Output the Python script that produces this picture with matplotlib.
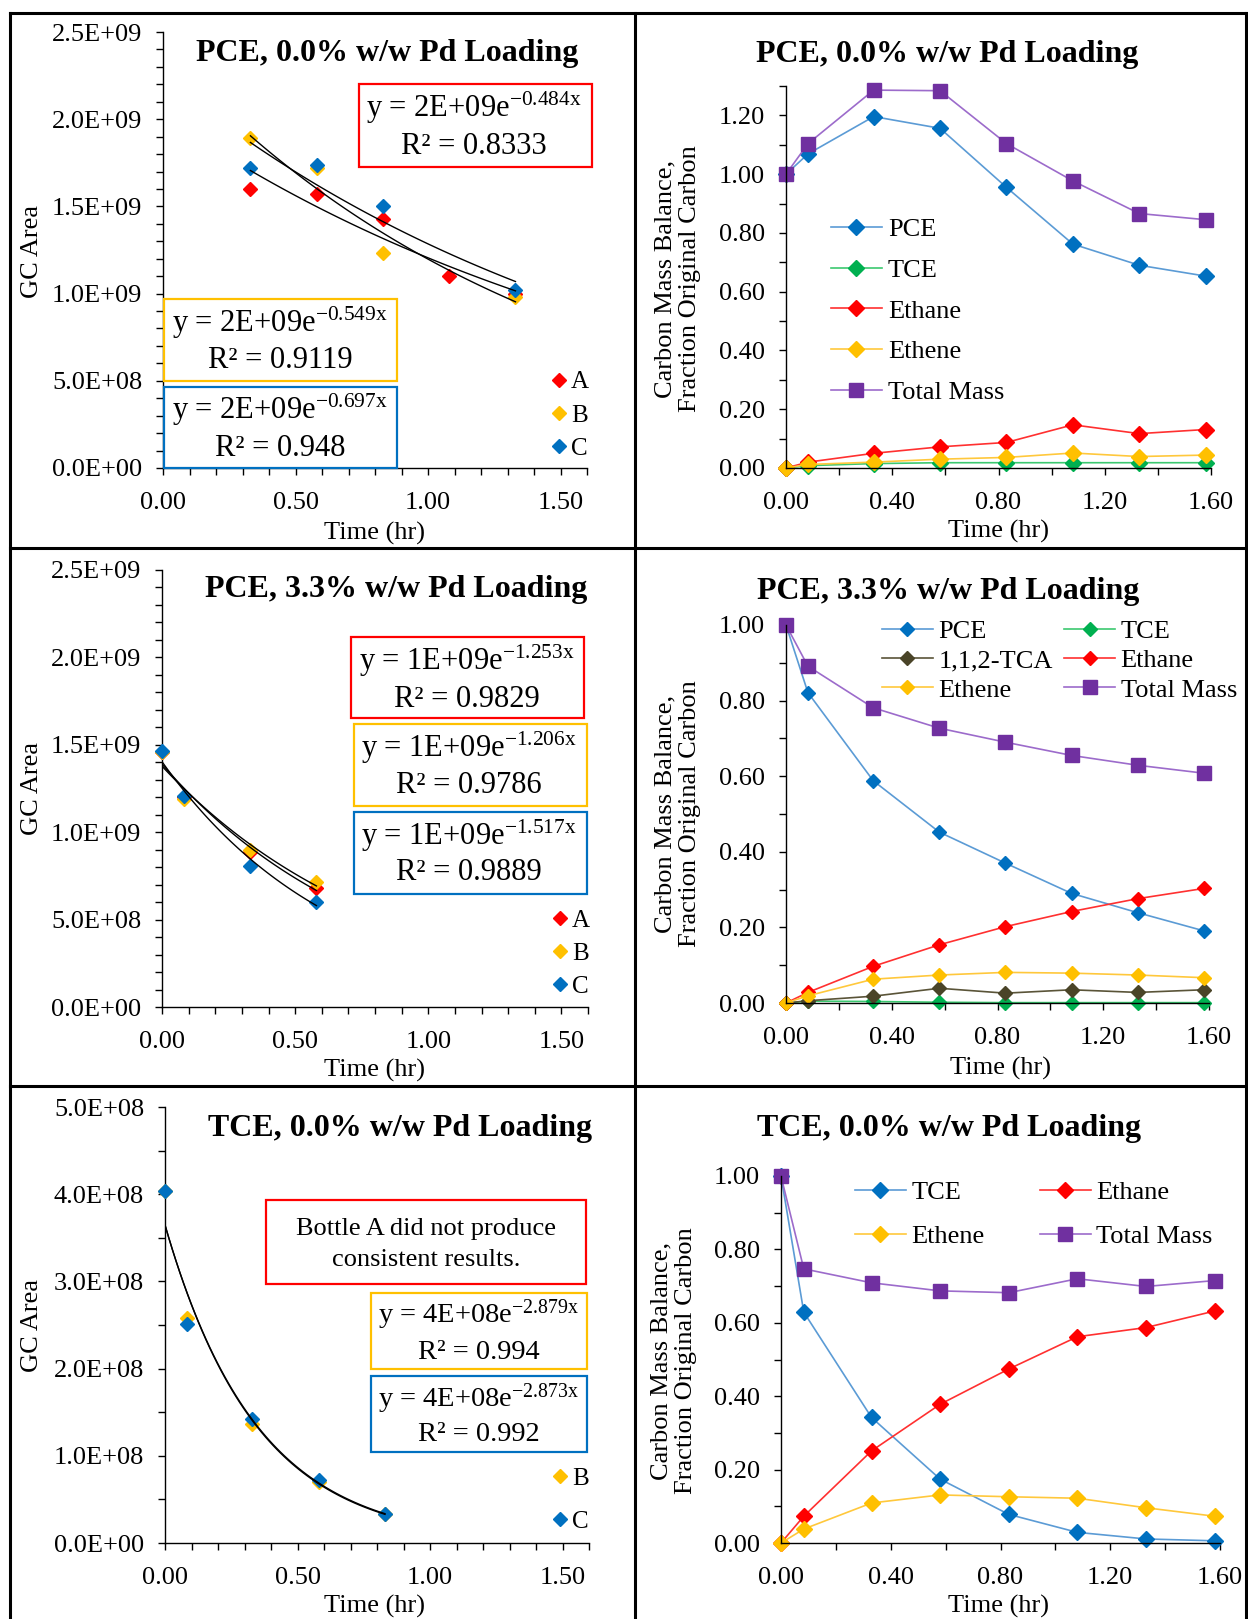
import numpy as np
import matplotlib
matplotlib.use("Agg")
import matplotlib.pyplot as plt
from matplotlib.patches import Rectangle
from matplotlib.lines import Line2D
from matplotlib.ticker import MultipleLocator, FuncFormatter

plt.rcParams['font.family'] = ['Liberation Serif', 'DejaVu Serif']
plt.rcParams['mathtext.fontset'] = 'custom'
plt.rcParams['mathtext.rm'] = 'Liberation Serif'
plt.rcParams['mathtext.default'] = 'regular'

# ---- GC area data (hr, area) ----
t_pce0 = [0.33, 0.58, 0.83, 1.08, 1.33]
pce0_A = [1.60e9, 1.57e9, 1.43e9, 1.10e9, 1.00e9]
t_pce0_bc = [0.33, 0.58, 0.83, 1.33]
pce0_B = [1.89e9, 1.72e9, 1.23e9, 0.98e9]
pce0_C = [1.72e9, 1.74e9, 1.50e9, 1.02e9]

t_pce33 = [0.0, 0.083, 0.33, 0.58]
pce33_A = [1.46e9, 1.20e9, 0.886e9, 0.683e9]
pce33_B = [1.46e9, 1.19e9, 0.896e9, 0.713e9]
pce33_C = [1.465e9, 1.206e9, 0.808e9, 0.599e9]

t_tce0 = [0.0, 0.083, 0.33, 0.58, 0.83]
tce0_B = [4.04e8, 2.58e8, 1.37e8, 0.695e8, 0.33e8]
tce0_C = [4.04e8, 2.51e8, 1.42e8, 0.726e8, 0.328e8]

# ---- carbon mass balance data ----
t_mb = [0.0, 0.083, 0.33, 0.58, 0.83, 1.08, 1.33, 1.58]

mb1_pce = [1.0, 1.069, 1.196, 1.156, 0.955, 0.762, 0.690, 0.653]
mb1_tce = [0.0, 0.008, 0.015, 0.018, 0.018, 0.018, 0.018, 0.018]
mb1_ethane = [0.0, 0.020, 0.050, 0.072, 0.087, 0.147, 0.117, 0.131]
mb1_ethene = [0.0, 0.012, 0.020, 0.030, 0.036, 0.051, 0.039, 0.044]
mb1_total = [1.0, 1.104, 1.286, 1.284, 1.104, 0.977, 0.866, 0.845]

mb2_pce = [1.0, 0.821, 0.588, 0.452, 0.370, 0.290, 0.239, 0.191]
mb2_tce = [0.0, 0.005, 0.004, 0.002, 0.001, 0.001, 0.001, 0.001]
mb2_tca = [0.0, 0.006, 0.018, 0.039, 0.026, 0.035, 0.028, 0.035]
mb2_ethane = [0.0, 0.028, 0.097, 0.154, 0.202, 0.242, 0.276, 0.303]
mb2_ethene = [0.0, 0.019, 0.063, 0.074, 0.081, 0.079, 0.074, 0.067]
mb2_total = [1.0, 0.891, 0.781, 0.727, 0.690, 0.655, 0.629, 0.608]

mb3_tce = [1.0, 0.629, 0.342, 0.174, 0.078, 0.029, 0.011, 0.006]
mb3_ethane = [0.0, 0.073, 0.251, 0.378, 0.474, 0.562, 0.587, 0.632]
mb3_ethene = [0.0, 0.038, 0.109, 0.131, 0.126, 0.122, 0.096, 0.073]
mb3_total = [1.0, 0.747, 0.709, 0.687, 0.682, 0.720, 0.699, 0.715]

RED, YEL, BLU = '#FF0000', '#FFC000', '#0070C0'
GRN, PUR, TCA = '#00B050', '#7030A0', '#4A4428'
LINE = {BLU: '#5B9BD5', GRN: '#3CC870', RED: '#FF3030', YEL: '#FFC83C',
        PUR: '#9C6BCB', TCA: '#5A5438'}

W, H = 1248, 1619
fig = plt.figure(figsize=(W / 100, H / 100), dpi=100)
FS = 19


def fx(x):
    return x / W


def fy(y):
    return 1 - y / H


def add_ax(x0, y0, x1, y1):
    ax = fig.add_axes([fx(x0), fy(y1), (x1 - x0) / W, (y1 - y0) / H])
    for s in ['top', 'right']:
        ax.spines[s].set_visible(False)
    for s in ['left', 'bottom']:
        ax.spines[s].set_linewidth(1.0)
    ax.tick_params(which='both', direction='out', length=5, width=1.0,
                   labelsize=FS)
    ax.tick_params(axis='y', pad=10)
    ax.tick_params(axis='x', pad=12)
    return ax


def gc_axes(ax, ymax, ymin_step):
    ax.set_xlim(0, 1.6)
    ax.set_ylim(0, ymax)
    ax.xaxis.set_major_locator(MultipleLocator(0.5))
    ax.xaxis.set_minor_locator(MultipleLocator(0.1))
    ax.xaxis.set_major_formatter(FuncFormatter(lambda v, p: f"{v:.2f}"))
    ax.yaxis.set_major_locator(MultipleLocator(ymax / 5))
    ax.yaxis.set_minor_locator(MultipleLocator(ymin_step))
    ax.yaxis.set_major_formatter(FuncFormatter(lambda v, p: f"{v:.1E}"))


def mb_axes(ax, ymax):
    ax.set_xlim(0, 1.6)
    ax.set_ylim(0, ymax)
    ax.xaxis.set_major_locator(MultipleLocator(0.4))
    ax.xaxis.set_minor_locator(MultipleLocator(0.2))
    ax.xaxis.set_major_formatter(FuncFormatter(lambda v, p: f"{v:.2f}"))
    ax.yaxis.set_major_locator(MultipleLocator(0.2))
    ax.yaxis.set_minor_locator(MultipleLocator(0.1))
    ax.yaxis.set_major_formatter(FuncFormatter(lambda v, p: f"{v:.2f}"))


def exp_fit(ax, t, y):
    # excel style exponential trendline
    k, b = np.polyfit(t, np.log(y), 1)
    xx = np.linspace(min(t), max(t), 60)
    ax.plot(xx, np.exp(b + k * xx), color='black', lw=1.0, zorder=4)


def scatter(ax, t, y, c, label):
    return ax.plot(t, y, 'D', ms=7.3, color=c, mec=c, label=label,
                   clip_on=False, zorder=3)[0]


def series(ax, t, y, c, label, marker='D', ms=8):
    return ax.plot(t, y, '-', color=LINE[c], lw=1.2, marker=marker, ms=ms,
                   mfc=c, mec=c, label=label, clip_on=False)[0]


def box(x0, y0, x1, y1, c):
    fig.add_artist(Rectangle((fx(x0), fy(y1)), (x1 - x0) / W, (y1 - y0) / H,
                             transform=fig.transFigure, fc='white', ec=c,
                             lw=1.6, zorder=5))


def eq(x, y1, y2, a, k, r2, fs=22):
    fig.text(fx(x), fy(y1), f"y = {a}e$^{{{k}x}}$", ha='center',
             va='baseline', fontsize=fs, zorder=6)
    fig.text(fx(x), fy(y2), f"R\u00b2 = {r2}", ha='center', va='baseline',
             fontsize=fs, zorder=6)


def abc_legend(ax, handles, x, y, spacing):
    ax.legend(handles=handles, loc='upper left',
              bbox_to_anchor=(fx(x), fy(y)), bbox_transform=fig.transFigure,
              frameon=False, fontsize=18, handlelength=0.6,
              handletextpad=0.2, labelspacing=spacing, borderpad=0,
              borderaxespad=0)


def title(x, y, s):
    fig.text(fx(x), fy(y), s, ha='center', va='baseline', fontsize=23,
             fontweight='bold')


def labels(xc, yc, xl, yl, ylab):
    fig.text(fx(xc), fy(yc), 'Time (hr)', ha='center', va='center',
             fontsize=FS)
    fig.text(fx(xl), fy(yl), ylab, ha='center', va='center', rotation=90,
             fontsize=FS, linespacing=1.15)


MB_LAB = 'Carbon Mass Balance,\nFraction Original Carbon'

# ---------------- panel 1 ----------------
ax = add_ax(163, 32, 587, 468)
gc_axes(ax, 2.5e9, 1e8)
hA = scatter(ax, t_pce0, pce0_A, RED, 'A')
hB = scatter(ax, t_pce0_bc, pce0_B, YEL, 'B')
hC = scatter(ax, t_pce0_bc, pce0_C, BLU, 'C')
exp_fit(ax, t_pce0, pce0_A)
exp_fit(ax, t_pce0_bc, pce0_B)
exp_fit(ax, t_pce0_bc, pce0_C)
abc_legend(ax, [hA, hB, hC], 551, 371, 0.43)
title(387, 61, 'PCE, 0.0% w/w Pd Loading')
labels(375, 533, 32, 251, 'GC Area')
box(359, 84, 592, 167, RED)
eq(474, 117, 154, '2E+09', '-0.484', '0.8333')
box(164, 299, 397, 381, YEL)
eq(280, 332, 368, '2E+09', '-0.549', '0.9119')
box(164, 387, 397, 468, BLU)
eq(280, 419, 456, '2E+09', '-0.697', '0.948')

# ---------------- panel 2 ----------------
ax = add_ax(786, 86, 1211, 468)
mb_axes(ax, 1.3)
series(ax, t_mb, mb1_pce, BLU, 'PCE')
series(ax, t_mb, mb1_tce, GRN, 'TCE')
series(ax, t_mb, mb1_ethane, RED, 'Ethane')
series(ax, t_mb, mb1_ethene, YEL, 'Ethene')
series(ax, t_mb, mb1_total, PUR, 'Total Mass', marker='s', ms=10.5)
ax.legend(loc='upper left', bbox_to_anchor=(fx(831), fy(218)),
          bbox_transform=fig.transFigure, frameon=False, fontsize=FS,
          handlelength=1.93, handletextpad=0.23, labelspacing=0.65,
          borderpad=0, borderaxespad=0)
title(947, 62, 'PCE, 0.0% w/w Pd Loading')
labels(998, 531, 678, 279, MB_LAB)

# ---------------- panel 3 ----------------
ax = add_ax(162, 570, 588, 1007)
gc_axes(ax, 2.5e9, 1e8)
hA = scatter(ax, t_pce33, pce33_A, RED, 'A')
hB = scatter(ax, t_pce33, pce33_B, YEL, 'B')
hC = scatter(ax, t_pce33, pce33_C, BLU, 'C')
exp_fit(ax, t_pce33, pce33_A)
exp_fit(ax, t_pce33, pce33_B)
exp_fit(ax, t_pce33, pce33_C)
abc_legend(ax, [hA, hB, hC], 552, 909, 0.43)
title(396, 597, 'PCE, 3.3% w/w Pd Loading')
labels(375, 1070, 32, 788, 'GC Area')
box(351, 637, 584, 718, RED)
eq(467, 670, 707, '1E+09', '-1.253', '0.9829')
box(354, 724, 587, 806, YEL)
eq(469, 757, 793, '1E+09', '-1.206', '0.9786')
box(354, 812, 587, 894, BLU)
eq(469, 845, 880, '1E+09', '-1.517', '0.9889')

# ---------------- panel 4 ----------------
ax = add_ax(786, 625, 1209, 1003)
mb_axes(ax, 1.0)
h_pce = series(ax, t_mb, mb2_pce, BLU, 'PCE', ms=7.5)
h_tce = series(ax, t_mb, mb2_tce, GRN, 'TCE', ms=7.5)
h_tca = series(ax, t_mb, mb2_tca, TCA, '1,1,2-TCA', ms=7.5)
h_eta = series(ax, t_mb, mb2_ethane, RED, 'Ethane', ms=7.5)
h_ete = series(ax, t_mb, mb2_ethene, YEL, 'Ethene', ms=7.5)
h_tot = series(ax, t_mb, mb2_total, PUR, 'Total Mass', marker='s', ms=9.5)
ax.legend(handles=[h_pce, h_tca, h_ete, h_tce, h_eta, h_tot], ncol=2,
          loc='upper left', bbox_to_anchor=(fx(882), fy(620)),
          bbox_transform=fig.transFigure, frameon=False, fontsize=FS,
          handlelength=1.93, handletextpad=0.2, labelspacing=0.21,
          columnspacing=0.45, borderpad=0, borderaxespad=0)
title(948, 599, 'PCE, 3.3% w/w Pd Loading')
labels(1000, 1068, 678, 814, MB_LAB)

# ---------------- panel 5 ----------------
ax = add_ax(165, 1107, 589, 1543)
gc_axes(ax, 5e8, 0.5e8)
hB = scatter(ax, t_tce0, tce0_B, YEL, 'B')
hC = scatter(ax, t_tce0, tce0_C, BLU, 'C')
exp_fit(ax, t_tce0, tce0_B)
exp_fit(ax, t_tce0, tce0_C)
abc_legend(ax, [hB, hC], 552, 1467, 0.82)
title(400, 1136, 'TCE, 0.0% w/w Pd Loading')
labels(375, 1606, 32, 1325, 'GC Area')
box(266, 1200, 586, 1284, RED)
fig.text(fx(426), fy(1235), 'Bottle A did not produce', ha='center',
         va='baseline', fontsize=FS, zorder=6)
fig.text(fx(426), fy(1266), 'consistent results.', ha='center',
         va='baseline', fontsize=FS, zorder=6)
box(371, 1293, 587, 1369, YEL)
eq(479, 1323, 1359, '4E+08', '-2.879', '0.994', fs=20.5)
box(371, 1376, 587, 1452, BLU)
eq(479, 1407, 1441, '4E+08', '-2.873', '0.992', fs=20.5)

# ---------------- panel 6 ----------------
ax = add_ax(781, 1176, 1220, 1543)
mb_axes(ax, 1.0)
h_tce = series(ax, t_mb, mb3_tce, BLU, 'TCE')
h_eta = series(ax, t_mb, mb3_ethane, RED, 'Ethane')
h_ete = series(ax, t_mb, mb3_ethene, YEL, 'Ethene')
h_tot = series(ax, t_mb, mb3_total, PUR, 'Total Mass', marker='s', ms=10)
ax.legend(handles=[h_tce, h_ete, h_eta, h_tot], ncol=2,
          loc='upper left', bbox_to_anchor=(fx(855), fy(1181)),
          bbox_transform=fig.transFigure, frameon=False, fontsize=FS,
          handlelength=1.93, handletextpad=0.2, labelspacing=0.75,
          columnspacing=2.1, borderpad=0, borderaxespad=0)
title(949, 1136, 'TCE, 0.0% w/w Pd Loading')
labels(998, 1606, 674, 1361, MB_LAB)

# ---------------- frame around the panels ----------------
for xs, ys in [((10, 1246), (13, 13)), ((10, 10), (13, 1625)),
               ((1246, 1246), (13, 1625)), ((635, 635), (13, 1625)),
               ((10, 1246), (548, 548)), ((10, 1246), (1086, 1086))]:
    fig.add_artist(Line2D([fx(xs[0]), fx(xs[1])], [fy(ys[0]), fy(ys[1])],
                          transform=fig.transFigure, color='black', lw=2.2))

fig.savefig('out.png', dpi=100)
